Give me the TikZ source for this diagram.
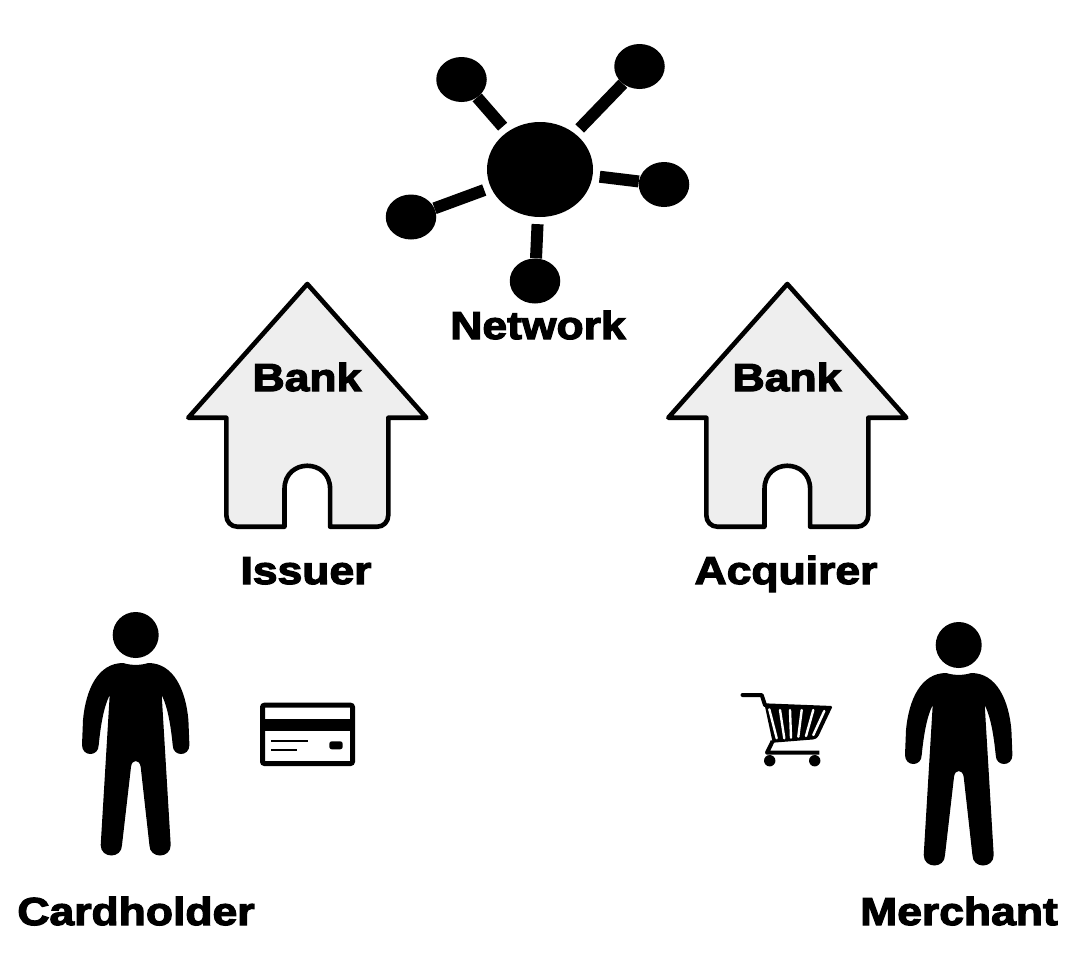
\documentclass[tikz,border=0pt]{standalone}
\usepackage{fontspec}
\newfontfamily\labelfont[FakeBold=3.2,FakeStretch=1.14]{Liberation Sans Bold}
\usetikzlibrary{shapes.geometric}
\definecolor{wallgray}{HTML}{EEEEEE}
\tikzset{
  lbl/.style={font=\labelfont\fontsize{39}{39}\selectfont,text=black,inner sep=0pt,anchor=base},
  hub/.style={ellipse,fill=black,inner sep=0pt,minimum width=106,minimum height=95},
  sat/.style={ellipse,fill=black,inner sep=0pt,minimum width=50.5,minimum height=45},
  spoke/.style={line width=12,shorten <=7},
  slit/.style={white,line width=2.4,line cap=round},
  person/.pic={
    \fill (0,0) circle (23);
    \fill (-12.5,28) .. controls (-5,30.5) and (5,30.5) .. (12.5,28)
      .. controls (38,28) and (50,55) .. (52.7,85) -- (53.7,110)
      .. controls (53.7,122) and (37,122) .. (37,110)
      .. controls (35,90) and (32,72) .. (26,60)
      -- (35,210) .. controls (35,224) and (13.7,224) .. (13.7,210)
      -- (5,132) .. controls (4,124) and (-4,124) .. (-4.7,132)
      -- (-13.7,210) .. controls (-13.7,224) and (-35,224) .. (-35,210)
      -- (-26,60) .. controls (-32,72) and (-35,90) .. (-37,110)
      .. controls (-37,122) and (-53.7,122) .. (-53.7,110) -- (-52.7,85)
      .. controls (-50,55) and (-38,28) .. (-12.5,28) -- cycle;
  },
  bankhouse/.pic={
    \draw[fill=wallgray,line width=4.6,line join=round] (0,0) -- (119,133.7) -- (81,133.7)
      -- (81,231) .. controls (81,238) and (76,242.7) .. (70,242.7) -- (22.8,242.7)
      -- (22.8,205) .. controls (22.8,174) and (-22.8,174) .. (-22.8,205)
      -- (-22.8,242.7) -- (-70,242.7) .. controls (-76,242.7) and (-81,238) .. (-81,231)
      -- (-81,133.7) -- (-119,133.7) -- cycle;
  }
}
\begin{document}
\begin{tikzpicture}[x=1pt,y=-1pt]
\useasboundingbox (0,0) rectangle (1086,972);
\node[hub] (net) at (540,169.5) {};
\node[sat] (nettl) at (461.5,79.5) {};
\node[sat] (nettr) at (639.5,66.5) {};
\node[sat] (netr) at (664,184.5) {};
\node[sat] (netb) at (535,281) {};
\node[sat] (netl) at (411,217) {};
\foreach \s in {nettl,nettr,netr,netb,netl}
  \draw[spoke] (net) -- (\s);
\node[lbl] (network) at (538,339) {Network};
\pic at (307.3,284) {bankhouse};
\pic at (787.3,284) {bankhouse};
\node[lbl] (bankl) at (307,391) {Bank};
\node[lbl] (bankr) at (787,391) {Bank};
\node[lbl] (issuer) at (306,584) {Issuer};
\node[lbl] (acquirer) at (786,584) {Acquirer};
\pic at (135.7,635) {person};
\pic at (958.7,645) {person};
\node[lbl] (cardholder) at (136,925) {Cardholder};
\node[lbl] (merchant) at (959,925) {Merchant};
\draw[line width=5,rounded corners=2] (262.5,705.2) rectangle (352.5,763.5);
\fill (262.5,719.3) rectangle (352.5,731);
\draw[line width=2] (271,741) -- (308,741);
\draw[line width=2] (271,749.7) -- (296.7,749.7);
\fill[rounded corners=2.5] (329.3,741.3) rectangle (342.7,749.3);
\draw[line width=4,line cap=round,line join=round] (742.5,695) -- (761.7,695) -- (765,705);
\fill[rounded corners=1.5] (764.3,703.3) -- (832.7,706) -- (818,737) -- (815,739.3) -- (772.7,742.7) -- cycle;
\foreach \xa/\ya/\xb/\yb in {769.3/709.3/776.7/738.3,780/710/784.3/738.3,790/710/791/737.7,801.7/710/798.3/736.7,813.3/710/806/736,824.3/711/813.3/735}
  \draw[slit] (\xa,\ya) -- (\xb,\yb);
\draw[line width=4,line join=round] (772.7,741) -- (767,752.7) -- (819.3,752.7);
\fill (769.7,760.7) circle (5.7);
\fill (814.7,760.7) circle (5.7);
\end{tikzpicture}
\end{document}
